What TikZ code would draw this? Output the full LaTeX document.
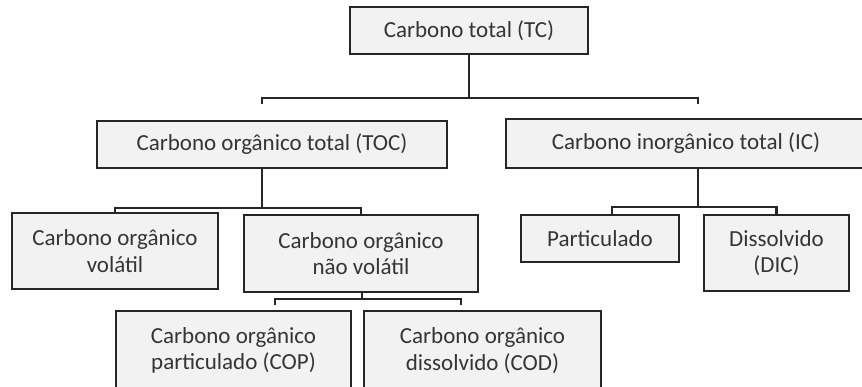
\documentclass[tikz,border=0pt]{standalone}
\usepackage{fontspec}
\setmainfont{Carlito}
\usetikzlibrary{calc}
\definecolor{caixafundo}{HTML}{F2F2F2}
\definecolor{caixalinha}{HTML}{262626}
\definecolor{texto}{HTML}{353535}
\begin{document}
\begin{tikzpicture}[x=0.5pt,y=-0.5pt,
  caixa/.style={draw=caixalinha,fill=caixafundo,line width=1.2pt,text=texto,
    align=center,inner sep=0pt,outer sep=0pt,
    font=\fontsize{11.5}{13.2}\selectfont},
  liga/.style={draw=caixalinha,line width=1.2pt}]
\useasboundingbox(0,0)rectangle(862,386);
\clip(0,0)rectangle(862,386);
% caixas
\node[caixa,minimum width=119pt,minimum height=23.5pt](tc)at(469,30.5){Carbono total (TC)};
\node[caixa,minimum width=175pt,minimum height=23.5pt](toc)at(272,144.5){Carbono orgânico total (TOC)};
\node[caixa,minimum width=180pt,minimum height=24.5pt](ic)at(686,143.5){Carbono inorgânico total (IC)};
\node[caixa,minimum width=103pt,minimum height=38pt](vol)at(115,251){Carbono orgânico\\volátil};
\node[caixa,minimum width=117pt,minimum height=38.5pt](nv)at(361,253.5){Carbono orgânico\\não volátil};
\node[caixa,minimum width=79pt,minimum height=23.5pt](part)at(600,238.5){Particulado};
\node[caixa,minimum width=72.5pt,minimum height=38pt](dis)at(776.5,253){Dissolvido\\(DIC)};
\node[caixa,minimum width=117.5pt,minimum height=39.5pt](cop)at(233.5,350.5){Carbono orgânico\\particulado (COP)};
\node[caixa,minimum width=118.5pt,minimum height=39.5pt](cod)at(482.5,350.5){Carbono orgânico\\dissolvido (COD)};
% pontos de junção
\coordinate(j1)at(469,98);
\coordinate(l1)at(262,104);
\coordinate(r1)at(698,104);
\coordinate(j2)at(262,208);
\coordinate(j3)at(698,207);
\coordinate(j4)at(362,299);
\coordinate(l4)at(275,305);
\coordinate(r4)at(461,305);
% ligações
\draw[liga](tc.south)--(j1);
\draw[liga](l1)|-(j1)-|(r1);
\draw[liga](toc.south-|j2)--(j2);
\draw[liga](vol.north)|-(j2)-|(nv.north);
\draw[liga](ic.south-|j3)--(j3);
\draw[liga]($(part.north)+(12,0)$)|-(j3)-|(dis.north);
\draw[liga](nv.south-|j4)--(j4);
\draw[liga](l4)|-(j4)-|(r4);
\end{tikzpicture}
\end{document}
